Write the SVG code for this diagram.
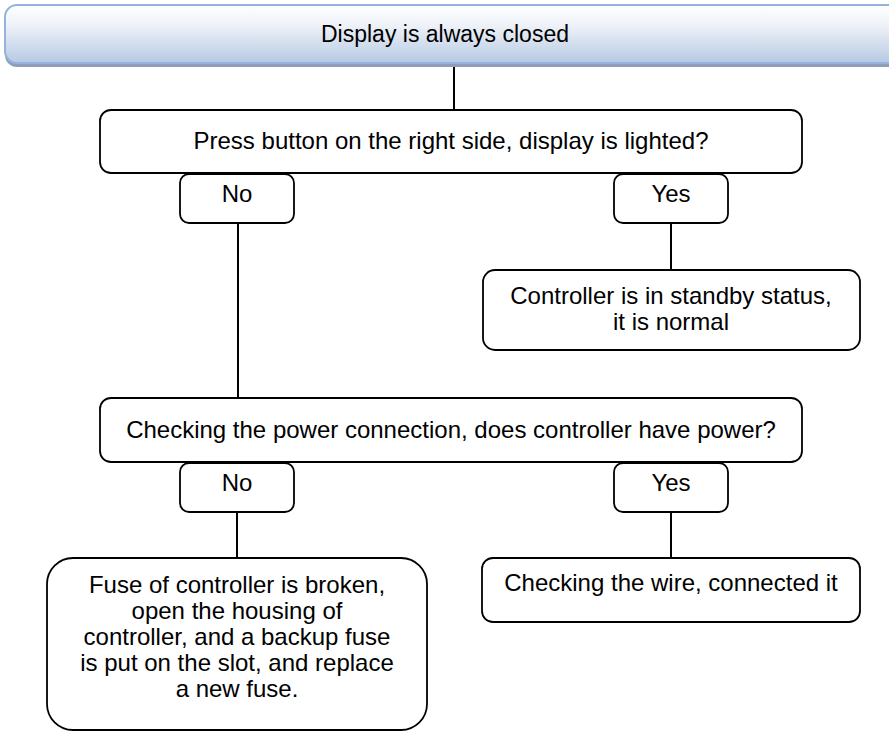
<svg xmlns="http://www.w3.org/2000/svg" width="889" height="732" viewBox="0 0 889 732">
<defs>
<linearGradient id="hdr" x1="0" y1="0" x2="0" y2="1">
<stop offset="0" stop-color="#ffffff"/>
<stop offset="0.35" stop-color="#eef2f8"/>
<stop offset="1" stop-color="#b6cae3"/>
</linearGradient>
<style>
.box{fill:#ffffff;stroke:#000000;stroke-width:1.8}
.t{font-family:"Liberation Sans",Arial,sans-serif;font-size:24px;fill:#000000;text-anchor:middle}
.h{font-size:23px}
.c{stroke:#000000;stroke-width:2;fill:none}
</style>
</defs>
<rect width="889" height="732" fill="#ffffff"/>
<g id="connectors">
<line class="c" x1="454" y1="66" x2="454" y2="110"/>
<line class="c" x1="238" y1="223" x2="238" y2="398"/>
<line class="c" x1="671" y1="223" x2="671" y2="270"/>
<line class="c" x1="237" y1="512" x2="237" y2="558"/>
<line class="c" x1="671" y1="512" x2="671" y2="558"/>
</g>
<g id="n_display">
<rect x="5" y="9" width="900" height="58" rx="12" fill="#8d9fb8"/>
<rect x="5" y="5" width="900" height="58" rx="12" fill="url(#hdr)" stroke="#95b3dc" stroke-width="2"/>
<text class="t h" x="445" y="42">Display is always closed</text>
</g>
<g id="n_press">
<rect class="box" x="100" y="110" width="702" height="63" rx="11"/>
<text class="t" x="451" y="149">Press button on the right side, display is lighted?</text>
</g>
<g id="n_no1">
<rect class="box" x="180" y="174" width="114" height="49" rx="9"/>
<text class="t" x="237" y="202">No</text>
</g>
<g id="n_yes1">
<rect class="box" x="614" y="174" width="114" height="49" rx="9"/>
<text class="t" x="671" y="202">Yes</text>
</g>
<g id="n_standby">
<rect class="box" x="483" y="270" width="377" height="80" rx="12"/>
<text class="t" x="671" y="304">Controller is in standby status,</text>
<text class="t" x="671" y="330">it is normal</text>
</g>
<g id="n_power">
<rect class="box" x="100" y="398" width="702" height="64" rx="11"/>
<text class="t" x="451" y="438">Checking the power connection, does controller have power?</text>
</g>
<g id="n_no2">
<rect class="box" x="180" y="463" width="114" height="49" rx="9"/>
<text class="t" x="237" y="491">No</text>
</g>
<g id="n_yes2">
<rect class="box" x="614" y="463" width="114" height="49" rx="9"/>
<text class="t" x="671" y="491">Yes</text>
</g>
<g id="n_fuse">
<rect class="box" x="47" y="558" width="380" height="172" rx="26"/>
<text class="t" x="237" y="593">Fuse of controller is broken,</text>
<text class="t" x="237" y="619">open the housing of</text>
<text class="t" x="237" y="645">controller, and a backup fuse</text>
<text class="t" x="237" y="671">is put on the slot, and replace</text>
<text class="t" x="237" y="697">a new fuse.</text>
</g>
<g id="n_wire">
<rect class="box" x="482" y="558" width="378" height="64" rx="11"/>
<text class="t" x="671" y="591">Checking the wire, connected it</text>
</g>
</svg>
